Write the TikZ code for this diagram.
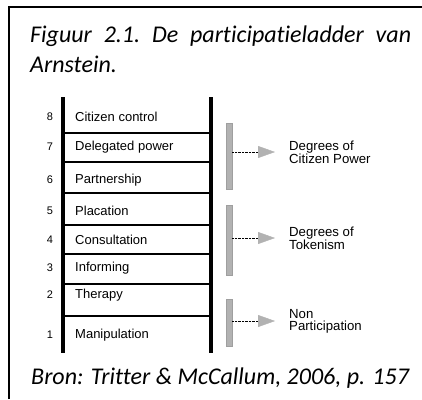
\documentclass[tikz,border=0pt]{standalone}
\usepackage{fontspec}
\setmainfont{Liberation Sans}
\newfontfamily\capfont[Ligatures=NoCommon]{Carlito}
\usetikzlibrary{arrows.meta}

\begin{document}
\begin{tikzpicture}[x=1pt,y=-1pt,
  rail/.style={line width=3.5pt},
  rung/.style={line width=1.1pt},
  captext/.style={anchor=base west,inner sep=0pt,font=\capfont\itshape\fontsize{24}{24}\selectfont},
  stepnum/.style={font=\fontsize{11}{11}\selectfont},
  steplabel/.style={anchor=west,inner sep=0pt,font=\fontsize{13}{13}\selectfont},
  grouplabel/.style={anchor=west,inner sep=0pt,align=left,font=\fontsize{13.2}{12}\selectfont},
  stipple/.style={fill=gray!60,draw=gray!75,line width=0.3pt},
  pointer/.style={thin,densely dotted,-{Triangle[length=17pt,width=12pt,fill=gray!60,color=gray!60]}}]
  \useasboundingbox (0,0) rectangle (422,399);

  %枠線
  \draw[line width=1.4pt] (9,399) -- (9,7) -- (422,7);

  %タイトル
  \node[captext] (titel) at (30,42)
    {\makebox[381pt][s]{Figuur\hfill 2.1.\hfill De\hfill participatieladder\hfill van}};
  \node[captext] (titel2) at (30,72) {Arnstein.};

  %はしごの横線
  \foreach \y in {133,162,193,225,254,284,316} {
    \draw[rung] (63,\y) -- (211,\y);
  }

  %はしごの縦線
  \draw[rail] (63,97) -- (63,353);
  \draw[rail] (211,97) -- (211,353);

  %段のラベル
  \foreach \n/\t/\y in {8/Citizen control/117,7/Delegated power/147,6/Partnership/180,
      5/Placation/211,4/Consultation/240,3/Informing/268,2/Therapy/295,1/Manipulation/335} {
    \node[stepnum] (n\n) at (50,\y) {\n};
    \node[steplabel] (s\n) at (75,\y) {\t};
  }

  %グループの帯
  \draw[stipple] (226,123) rectangle (232,189);
  \draw[stipple] (226,205) rectangle (232,275);
  \draw[stipple] (226,299) rectangle (232,346);
  \coordinate (b1) at (232,152);
  \coordinate (b2) at (232,238);
  \coordinate (b3) at (232,321);

  %グループのラベル
  \node[grouplabel] (g1) at (289,152) {Degrees of\\Citizen Power};
  \node[grouplabel] (g2) at (289,238) {Degrees of\\Tokenism};
  \node[grouplabel] (g3) at (289,321) {Non\\Participation};

  %矢印
  \foreach \i in {1,2,3} {
    \draw[pointer] (b\i) -- ([xshift=-14pt]g\i.west);
  }

  %出典
  \node[captext] (bron) at (31,384) {Bron: Tritter \& McCallum, 2006, p. 157};
\end{tikzpicture}
\end{document}
